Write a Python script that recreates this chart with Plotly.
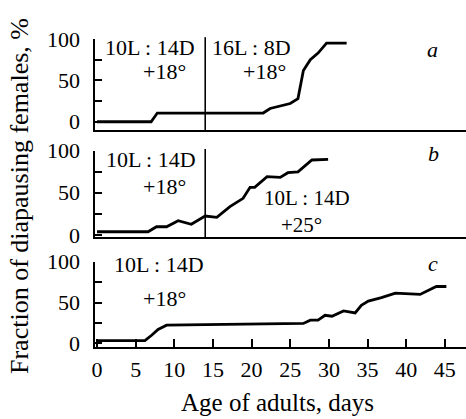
import plotly.graph_objects as go

# ---- data ----
a_x = [0, 7, 7.8, 21.5, 22.4, 23.7, 25, 26, 26.3, 26.7, 27.6, 28.6, 29.7, 32.3]
a_y = [0, 0, 10.5, 10.5, 16, 19, 22, 28, 42, 62, 75, 83, 95, 95]

b_x = [0, 6.6, 7.7, 9.0, 10.5, 12.2, 14, 15.5, 17.2, 18.9, 19.8, 20.4, 22, 23.7, 24.7, 26, 27.8, 29.9]
b_y = [3.9, 3.9, 9.8, 9.8, 17, 12.7, 22.5, 21, 33.6, 43.5, 56.6, 56.6, 69.2, 68.4, 73.9, 75, 89, 89.8]

c_x = [0, 6.2, 7.1, 7.9, 9.0, 26.7, 27.6, 28.6, 29.5, 30.4, 31.9, 33.4, 34.2, 35.1, 36.8, 38.6, 41.8, 43.9, 45.2]
c_y = [3.4, 3.4, 10.3, 17.2, 22.4, 24.5, 28.5, 28.5, 34.5, 33.3, 39.8, 37.3, 46.7, 51.9, 56, 61.6, 60, 69.7, 69.7]

x_ticks = [0, 5, 10, 15, 20, 25, 30, 35, 40, 45]
y_ticks = [0, 25, 50, 75, 100]
y_label_vals = [0, 50, 100]
y_label_text = ["0", "50", "100"]
switch_day = 14

W, H = 466, 419
FONT = "Times New Roman, Liberation Serif, serif"

def py(p):
    return 1 - p / H

fig = go.Figure()
panels = [("", a_x, a_y), ("2", b_x, b_y), ("3", c_x, c_y)]
for suf, xs, ys in panels:
    fig.add_trace(go.Scatter(x=xs, y=ys, mode="lines",
                             line=dict(color="black", width=2.8, shape="linear"),
                             xaxis="x" + suf, yaxis="y" + suf, showlegend=False,
                             hoverinfo="skip"))

xdom = [95 / W, 1]
xr = [-0.26, 47.74]
# (bottom px, top px, range)
ydefs = [(130, 39, [-10, 100]), (237.3, 150.7, [-2.7, 100]), (347, 261.7, [-4.3, 100])]

layout = dict(width=W, height=H, margin=dict(l=0, r=0, t=0, b=0, autoexpand=False),
              paper_bgcolor="white", plot_bgcolor="white",
              font=dict(family=FONT, size=22, color="black"), showlegend=False)

for i, (bot, top, rng) in enumerate(ydefs):
    suf = "" if i == 0 else str(i + 1)
    last = (i == 2)
    dom = [py(bot), py(top)]
    layout["xaxis" + suf] = dict(domain=xdom, range=xr, anchor="y" + suf, automargin=False,
                                 showline=True, linecolor="black", linewidth=2,
                                 showgrid=False, zeroline=False,
                                 tickvals=x_ticks if last else [],
                                 ticks="inside" if last else "", ticklen=8, tickwidth=2,
                                 tickcolor="black",
                                 showticklabels=last, ticklabelstandoff=2,
                                 tickfont=dict(family=FONT, size=22))
    layout["yaxis" + suf] = dict(domain=dom, range=rng, anchor="x" + suf, automargin=False,
                                 showline=True, linecolor="black", linewidth=2,
                                 showgrid=False, zeroline=False,
                                 tickvals=y_ticks, showticklabels=False,
                                 ticks="inside", ticklen=7, tickwidth=2, tickcolor="black")

fig.update_layout(**layout)

# y tick labels, placed on each panel's y scale, left of the axis
for suf in ["", "2", "3"]:
    for v, t in zip(y_label_vals, y_label_text):
        fig.add_annotation(text=t, x=81 / W, xref="paper", y=v, yref="y" + suf,
                           xanchor="right", yanchor="middle", showarrow=False, borderpad=0,
                           font=dict(family=FONT, size=22, color="black"))

# vertical switch lines in panels a and b
for suf in ["", "2"]:
    fig.add_shape(type="line", x0=switch_day, x1=switch_day, y0=0, y1=1.02,
                  xref="x" + suf, yref=("y" + suf + " domain") if suf else "y domain",
                  line=dict(color="black", width=1.6))

def ann(text, x, y, suf, xanchor="left", italic=False, size=22):
    fig.add_annotation(text=("<i>%s</i>" % text) if italic else text,
                       x=x, y=y, xref="x" + suf, yref="y" + suf,
                       xanchor=xanchor, yanchor="middle", showarrow=False,
                       borderpad=0,
                       font=dict(family=FONT, size=size, color="black"))

ann("10L : 14D", 0.9, 89.8, "")
ann("+18°", 5.8, 61, "")
ann("16L : 8D", 14.8, 89.8, "")
ann("+18°", 18.7, 61, "")
ann("a", 43.4, 87, "", xanchor="center", italic=True)

ann("10L : 14D", 1.0, 89, "2")
ann("+18°", 5.8, 57.3, "2")
ann("10L : 14D", 21.5, 43.5, "2", size=21)
ann("+25°", 23.7, 11.5, "2", size=21)
ann("b", 43.5, 97, "2", xanchor="center", italic=True)

ann("10L : 14D", 2.1, 96, "3")
ann("+18°", 5.8, 55, "3")
ann("c", 43.5, 98, "3", xanchor="center", italic=True)

# axis titles
fig.add_annotation(text="Age of adults, days", x=277.5 / W, y=py(402), xref="paper", yref="paper",
                   xanchor="center", yanchor="middle", showarrow=False, borderpad=0,
                   font=dict(family=FONT, size=25, color="black"))
fig.add_annotation(text="Fraction of diapausing females, %", x=20 / W, y=py(196),
                   xref="paper", yref="paper", textangle=-90,
                   xanchor="center", yanchor="middle", showarrow=False, borderpad=0,
                   font=dict(family=FONT, size=26, color="black"))

fig.write_html("out.html")
